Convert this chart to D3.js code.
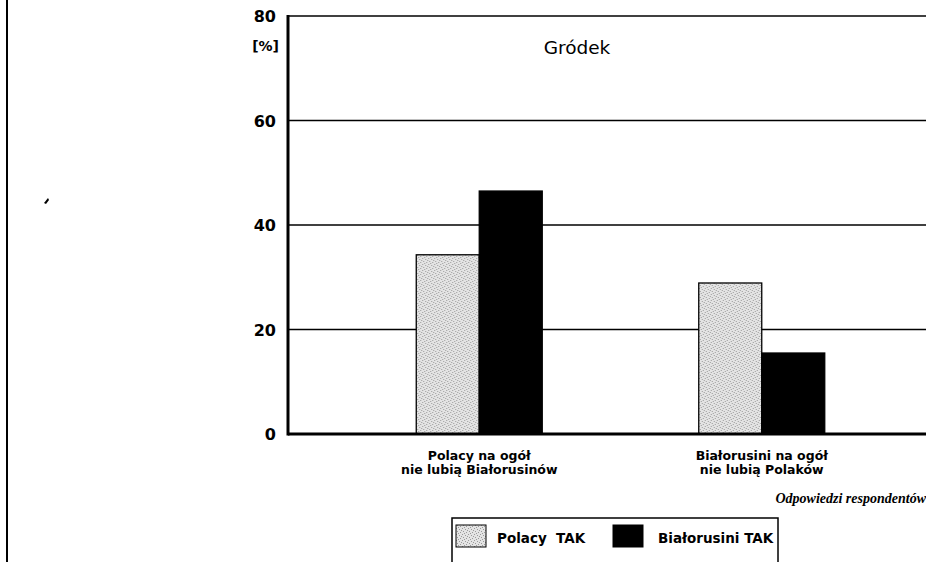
<!DOCTYPE html>
<html>
<head>
<meta charset="utf-8">
<script src="https://cdn.jsdelivr.net/npm/d3@7"></script>
<style>
  body { margin: 0; background: #fff; }
  svg { display: block; }
</style>
</head>
<body>
<svg id="chart" width="926" height="562"></svg>
<script>
// categories (two lines each) and series
const categories = ["Polacy na ogół\nnie lubią Białorusinów", "Białorusini na ogół\nnie lubią Polaków"];
const series = ["Polacy TAK", "Białorusini TAK"];
const legendLabels = ["Polacy\u00a0 TAK", "Białorusini TAK"];
const polacyTak = [34.3, 28.9];
const bialorusiniTak = [46.5, 15.5];
const yTicks = [0, 20, 40, 60, 80];

const width = 926, height = 562;
const svg = d3.select("#chart");

// stipple pattern for the light bars
const defs = svg.append("defs");
const pat = defs.append("pattern")
  .attr("id", "stipple")
  .attr("width", 6).attr("height", 6)
  .attr("patternUnits", "userSpaceOnUse");
pat.append("rect").attr("width", 6).attr("height", 6).attr("fill", "#e4e4e4");
[[0, 0], [3, 1], [1, 3], [4, 4], [5, 2], [2, 5]].forEach(p => {
  pat.append("rect").attr("x", p[0]).attr("y", p[1])
    .attr("width", 1).attr("height", 1).attr("fill", "#9a9a9a");
});

const y = d3.scaleLinear().domain([0, 80]).range([434, 16]);
const x = d3.scaleBand().domain(categories).range([338, 903])
  .paddingInner(0.554).paddingOuter(0.277);
const xs = d3.scaleBand().domain(series).range([0, x.bandwidth()]);

const plotLeft = 288, plotRight = width;

// page border line on the left
svg.append("line")
  .attr("x1", 7).attr("x2", 7).attr("y1", 0).attr("y2", height)
  .attr("stroke", "#000").attr("stroke-width", 2);
// little ink speck
svg.append("path")
  .attr("d", "M44,203 L48,198 L49,200 L46,204 Z")
  .attr("fill", "#000");

// gridlines
svg.append("g").selectAll("line")
  .data(yTicks.filter(d => d > 0))
  .join("line")
  .attr("x1", plotLeft).attr("x2", plotRight)
  .attr("y1", d => y(d)).attr("y2", d => y(d))
  .attr("stroke", "#000").attr("stroke-width", 1.6);

// bars
const groups = svg.append("g").selectAll("g")
  .data(categories)
  .join("g")
  .attr("transform", d => `translate(${x(d)},0)`);

groups.selectAll("rect")
  .data((d, i) => [
    { s: series[0], v: polacyTak[i] },
    { s: series[1], v: bialorusiniTak[i] }
  ])
  .join("rect")
  .attr("x", d => xs(d.s))
  .attr("y", d => y(d.v))
  .attr("width", xs.bandwidth())
  .attr("height", d => y(0) - y(d.v))
  .attr("fill", d => d.s === series[0] ? "url(#stipple)" : "#000")
  .attr("stroke", "#000")
  .attr("stroke-width", 1.3);

// baseline and y axis
svg.append("line")
  .attr("x1", plotLeft).attr("x2", plotRight)
  .attr("y1", y(0)).attr("y2", y(0))
  .attr("stroke", "#000").attr("stroke-width", 3);
svg.append("line")
  .attr("x1", plotLeft).attr("x2", plotLeft)
  .attr("y1", y(80) - 1).attr("y2", y(0) + 1.5)
  .attr("stroke", "#000").attr("stroke-width", 3);

// y tick labels
svg.append("g").selectAll("text")
  .data(yTicks)
  .join("text")
  .attr("x", 276)
  .attr("y", d => y(d) + 6)
  .attr("text-anchor", "end")
  .attr("font-family", "DejaVu Sans")
  .attr("font-weight", "bold")
  .attr("font-size", 16)
  .text(d => d);

svg.append("text")
  .attr("x", 279).attr("y", 51)
  .attr("text-anchor", "end")
  .attr("font-family", "DejaVu Sans")
  .attr("font-weight", "bold")
  .attr("font-size", 14)
  .text("[%]");

// title
svg.append("text")
  .attr("x", 577).attr("y", 54)
  .attr("text-anchor", "middle")
  .attr("font-family", "DejaVu Sans")
  .attr("font-size", 18.5)
  .text("Gródek");

// category labels
svg.append("g").selectAll("text")
  .data(categories)
  .join("text")
  .attr("text-anchor", "middle")
  .attr("font-family", "DejaVu Sans")
  .attr("font-weight", "bold")
  .attr("font-size", 12.5)
  .each(function (d) {
    const t = d3.select(this);
    d.split("\n").forEach((line, i) => {
      t.append("tspan")
        .attr("x", x(d) + x.bandwidth() / 2)
        .attr("y", 460 + i * 14)
        .text(line);
    });
  });

// axis title
svg.append("text")
  .attr("x", 926).attr("y", 503)
  .attr("text-anchor", "end")
  .attr("font-family", "Liberation Serif")
  .attr("font-style", "italic")
  .attr("font-weight", "bold")
  .attr("font-size", 14)
  .text("Odpowiedzi respondentów");

// legend
const legend = svg.append("g");
legend.append("rect")
  .attr("x", 452).attr("y", 518)
  .attr("width", 326).attr("height", 60)
  .attr("fill", "#fff").attr("stroke", "#000").attr("stroke-width", 1.5);
const legendItems = [
  { s: series[0], label: legendLabels[0], sx: 456, tx: 497 },
  { s: series[1], label: legendLabels[1], sx: 613, tx: 658 }
];
legend.selectAll("rect.sw")
  .data(legendItems)
  .join("rect")
  .attr("class", "sw")
  .attr("x", d => d.sx).attr("y", 525)
  .attr("width", 30).attr("height", 22)
  .attr("fill", d => d.s === series[0] ? "url(#stipple)" : "#000")
  .attr("stroke", "#000").attr("stroke-width", 1);
legend.selectAll("text")
  .data(legendItems)
  .join("text")
  .attr("x", d => d.tx).attr("y", 543)
  .attr("font-family", "DejaVu Sans")
  .attr("font-weight", "bold")
  .attr("font-size", 13.5)
  .text(d => d.label);
</script>
</body>
</html>
